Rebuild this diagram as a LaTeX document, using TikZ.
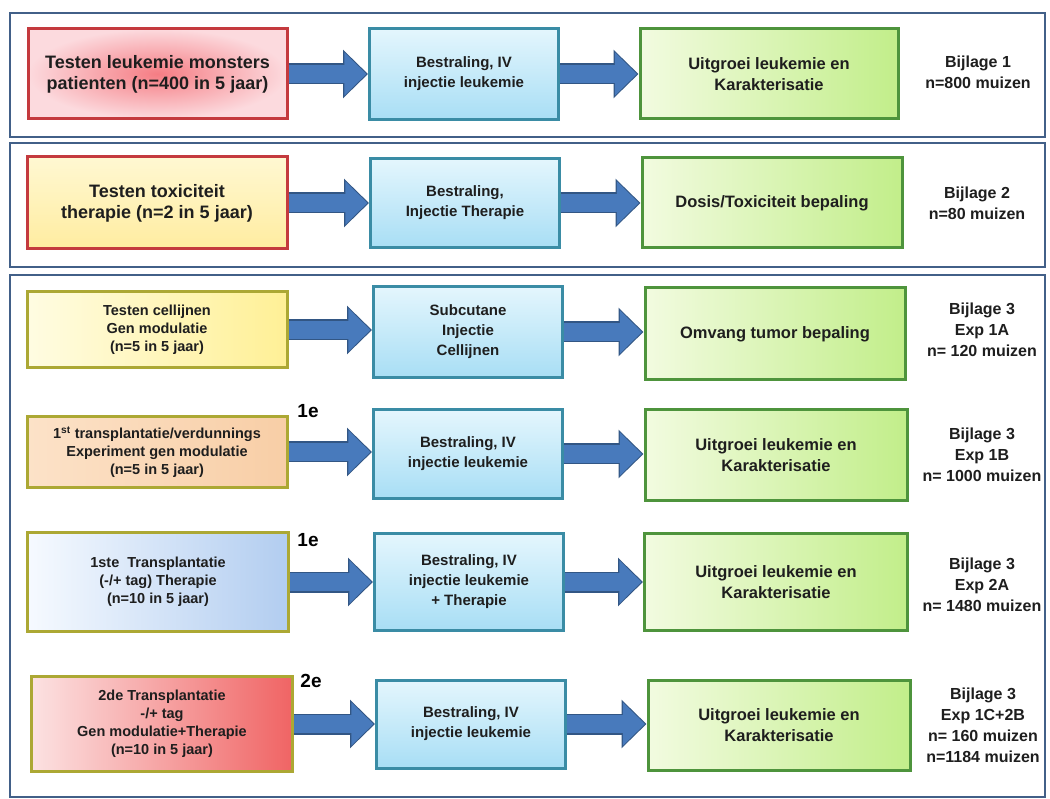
\documentclass[tikz,border=0pt]{standalone}
\usepackage{fontspec}
\setmainfont{Liberation Sans}
\usetikzlibrary{arrows.meta}
\definecolor{arrowblue}{RGB}{72,122,188}
\definecolor{arrowdark}{RGB}{50,86,132}
\definecolor{framecol}{RGB}{66,96,136}
\definecolor{blueborder}{RGB}{58,140,165}
\definecolor{bluetop}{RGB}{228,246,253}
\definecolor{bluebot}{RGB}{168,222,245}
\definecolor{greenborder}{RGB}{78,148,60}
\definecolor{greenleft}{RGB}{242,251,224}
\definecolor{greenright}{RGB}{194,238,138}
\definecolor{redborder}{RGB}{196,58,62}
\definecolor{oliveborder}{RGB}{172,168,52}
\definecolor{txt}{RGB}{30,30,30}
\begin{document}
\begin{tikzpicture}[x=1pt,y=-1pt,
  frame/.style={draw=framecol,line width=2pt},
  boxbase/.style={rectangle,line width=3pt,inner sep=0pt,align=center,text=txt},
  abox/.style={boxbase,font={\fontsize{18}{21}\selectfont\bfseries}},
  sbox/.style={boxbase,font={\fontsize{14.5}{18}\selectfont\bfseries}},
  bbox/.style={boxbase,draw=blueborder,top color=bluetop,bottom color=bluebot,
     minimum width=189pt,font={\fontsize{15}{20}\selectfont\bfseries}},
  gbox/.style={boxbase,draw=greenborder,left color=greenleft,right color=greenright,
     minimum width=260pt,font={\fontsize{16.5}{21.5}\selectfont\bfseries}},
  lab/.style={align=center,text=txt,inner sep=0pt,font={\fontsize{16}{21}\selectfont\bfseries}},
  num/.style={text=black,inner sep=0pt,font={\fontsize{19}{20}\selectfont\bfseries}},
  arrout/.style={draw=arrowdark,line width=21pt,-{Triangle[length=25pt,width=47pt]}},
  arrin/.style={draw=arrowblue,line width=18pt,shorten >=1.6pt,-{Triangle[length=22pt,width=42pt]}}
]
\useasboundingbox (0,0) rectangle (1050,799);
\fill[white] (0,0) rectangle (1050,799);
% frames
\draw[frame] (10,13) rectangle (1045,137);
\draw[frame] (10,143) rectangle (1045,267);
\draw[frame] (10,275) rectangle (1045,797);

% Row 1
\node[abox,draw=redborder,inner color={rgb,255:red,245;green,125;blue,132},outer color={rgb,255:red,252;green,218;blue,222},
  minimum width=259pt,minimum height=90pt] (a1) at (157.5,74) {Testen leukemie monsters\\patienten (n=400 in 5 jaar)};
\node[bbox,minimum height=91pt] (b1) at (464,74) {Bestraling, IV\\injectie leukemie};
\node[gbox,minimum width=258pt,minimum height=90pt] (c1) at (769,74) {Uitgroei leukemie en\\Karakterisatie};
\node[lab] (l1) at (978,72) {Bijlage 1\\n=800 muizen};

% Row 2
\node[abox,draw=redborder,top color={rgb,255:red,255;green,248;blue,210},bottom color={rgb,255:red,255;green,236;blue,160},
  minimum width=260pt,minimum height=92pt] (a2) at (157,203) {Testen toxiciteit\\therapie (n=2 in 5 jaar)};
\node[bbox,minimum height=89pt] (b2) at (465,203) {Bestraling,\\Injectie Therapie};
\node[gbox,minimum height=90pt] (c2) at (772,203) {Dosis/Toxiciteit bepaling};
\node[lab] (l2) at (977,203) {Bijlage 2\\n=80 muizen};

% Row 3
\node[sbox,draw=oliveborder,left color={rgb,255:red,255;green,252;blue,226},right color={rgb,255:red,255;green,240;blue,150},
  minimum width=260pt,minimum height=76pt] (a3) at (157,330) {Testen cellijnen\\Gen modulatie\\(n=5 in 5 jaar)};
\node[bbox,minimum height=91pt] (b3) at (468,332) {Subcutane\\Injectie\\Cellijnen};
\node[gbox,minimum height=92pt] (c3) at (775,334) {Omvang tumor bepaling};
\node[lab] (l3) at (982,330) {Bijlage 3\\Exp 1A\\n= 120 muizen};

% Row 4
\node[sbox,draw=oliveborder,left color={rgb,255:red,252;green,226;blue,200},right color={rgb,255:red,248;green,206;blue,166},
  minimum width=260pt,minimum height=71pt] (a4) at (157,452) {1\textsuperscript{st} transplantatie/verdunnings\\Experiment gen modulatie\\(n=5 in 5 jaar)};
\node[num] (e4) at (308,411) {1e};
\node[bbox,minimum height=88pt] (b4) at (468,454) {Bestraling, IV\\injectie leukemie};
\node[gbox,minimum width=262pt,minimum height=90pt] (c4) at (776,455) {Uitgroei leukemie en\\Karakterisatie};
\node[lab] (l4) at (982,455) {Bijlage 3\\Exp 1B\\n= 1000 muizen};

% Row 5
\node[sbox,draw=oliveborder,left color={rgb,255:red,246;green,250;blue,255},right color={rgb,255:red,178;green,205;blue,240},
  minimum width=261pt,minimum height=99pt] (a5) at (158,582) {1ste\ \ Transplantatie\\(-/+ tag) Therapie\\(n=10 in 5 jaar)};
\node[num] (e5) at (308,540) {1e};
\node[bbox,minimum height=97pt] (b5) at (469,582) {Bestraling, IV\\injectie leukemie\\+ Therapie};
\node[gbox,minimum width=263pt,minimum height=97pt] (c5) at (776,582) {Uitgroei leukemie en\\Karakterisatie};
\node[lab] (l5) at (982,585) {Bijlage 3\\Exp 2A\\n= 1480 muizen};

% Row 6
\node[sbox,draw=oliveborder,left color={rgb,255:red,252;green,226;blue,226},right color={rgb,255:red,240;green,100;blue,100},
  minimum width=261pt,minimum height=95pt] (a6) at (162,724) {2de Transplantatie\\-/+ tag\\Gen modulatie+Therapie\\(n=10 in 5 jaar)};
\node[num] (e6) at (311,681) {2e};
\node[bbox,minimum height=88pt] (b6) at (471,724) {Bestraling, IV\\injectie leukemie};
\node[gbox,minimum width=262pt,minimum height=90pt] (c6) at (779,725) {Uitgroei leukemie en\\Karakterisatie};
\node[lab] (l6) at (983,725) {Bijlage 3\\Exp 1C+2B\\n= 160 muizen\\n=1184 muizen};

% arrows
\foreach \r in {1,...,6}{
  \draw[arrout] (a\r.east) -- (a\r.east -| b\r.west);
  \draw[arrin] (a\r.east) -- (a\r.east -| b\r.west);
  \draw[arrout] (b\r.east) -- (b\r.east -| c\r.west);
  \draw[arrin] (b\r.east) -- (b\r.east -| c\r.west);
}
\end{tikzpicture}
\end{document}
